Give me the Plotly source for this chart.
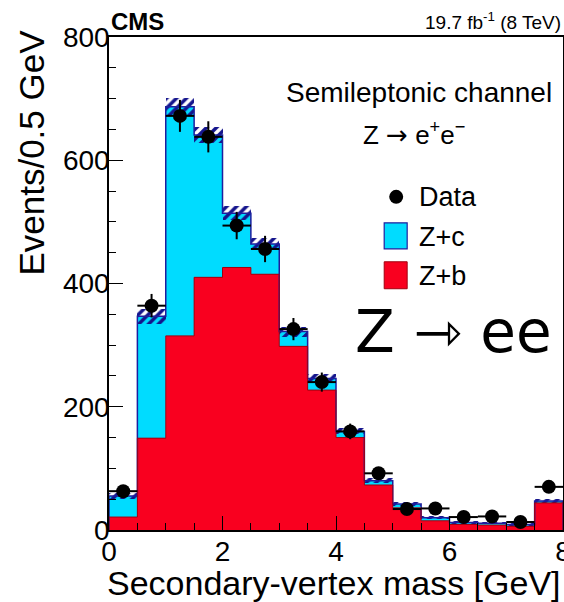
import numpy as np
import plotly.graph_objects as go

# ---- data ----
bin_centers = [0.25, 0.75, 1.25, 1.75, 2.25, 2.75, 3.25, 3.75,
               4.25, 4.75, 5.25, 5.75, 6.25, 6.75, 7.25, 7.75]
bin_edges = [0.0, 0.5, 1.0, 1.5, 2.0, 2.5, 3.0, 3.5, 4.0,
             4.5, 5.0, 5.5, 6.0, 6.5, 7.0, 7.5, 8.0]
z_b = [21, 149, 315, 410, 426, 415, 298, 227, 150, 73, 36, 15, 9, 8, 6, 44]
z_c = [34, 198, 372, 231, 88, 49, 24, 19, 10, 7, 6, 5, 3, 3, 3, 3]
data = [63, 364, 672, 638, 494, 456, 326, 240, 160, 92, 34, 35, 21, 22, 13, 70]
mc_unc = [5, 12, 14, 13, 11, 10, 8, 7, 5, 4, 3, 2, 2, 2, 2, 3]

total = [b + c for b, c in zip(z_b, z_c)]
bin_width = 0.5

RED = "#f9001f"
RED_EDGE = "#a0000f"
CYAN = "#00dcff"
BLUE_EDGE = "#1e1e9e"
HATCH = "#14148c"
FONT = "Liberation Sans, Arial, Helvetica, sans-serif"

def step_xy(vals):
    xs = [bin_edges[0]] + bin_edges[:-1] + [bin_edges[-1], bin_edges[-1]]
    ys = [0] + list(vals) + [vals[-1], 0]
    return xs, ys

fig = go.Figure()

# stacked histogram: total (cyan) behind, Z+b (red) in front
fig.add_trace(go.Bar(x=bin_centers, y=total, width=bin_width,
                     marker=dict(color=CYAN, line=dict(width=0)),
                     showlegend=False, hoverinfo="skip"))
fig.add_trace(go.Bar(x=bin_centers, y=z_b, width=bin_width,
                     marker=dict(color=RED, line=dict(width=0)),
                     showlegend=False, hoverinfo="skip"))

# outlines
xs, ys = step_xy(total)
fig.add_trace(go.Scatter(x=xs, y=ys, mode="lines", line=dict(color=BLUE_EDGE, width=1.5, shape="hv"),
                         showlegend=False, hoverinfo="skip"))
xs, ys = step_xy(z_b)
fig.add_trace(go.Scatter(x=xs, y=ys, mode="lines", line=dict(color=RED_EDGE, width=1, shape="hv"),
                         showlegend=False, hoverinfo="skip"))

# hatched MC uncertainty band
fig.add_trace(go.Bar(x=bin_centers,
                     y=[2 * u for u in mc_unc],
                     base=[t - u for t, u in zip(total, mc_unc)],
                     width=bin_width,
                     marker=dict(color="rgba(0,0,0,0)", line=dict(width=0),
                                 pattern=dict(shape="/", fgcolor=HATCH,
                                              bgcolor="rgba(0,0,0,0)",
                                              size=7, solidity=0.5,
                                              fgopacity=1,
                                              fillmode="overlay")),
                     showlegend=False, hoverinfo="skip"))

# data points
fig.add_trace(go.Scatter(x=bin_centers, y=data, mode="markers",
                         marker=dict(color="black", size=14),
                         error_y=dict(type="data", array=list(np.sqrt(data)),
                                      color="black", thickness=2, width=0),
                         error_x=dict(type="constant", value=bin_width / 2,
                                      color="black", thickness=2, width=0),
                         showlegend=False, hoverinfo="skip"))

W, H = 564, 602
L, R, T, B = 108.5, 563.0, 37.0, 530.5

def px(xp):
    return (xp - L) / (R - L)

def py(yp):
    return (B - yp) / (B - T)

fig.update_layout(
    width=W, height=H,
    margin=dict(l=L, r=W - R, t=T, b=H - B),
    paper_bgcolor="white", plot_bgcolor="white",
    barmode="overlay", bargap=0,
    font=dict(family=FONT, color="black"),
    showlegend=False,
)

fig.update_xaxes(range=[0, 8], dtick=2, tick0=0,
                 ticks="inside", ticklen=14, tickwidth=1.2, tickcolor="black",
                 minor=dict(ticks="inside", ticklen=7, dtick=0.5, tickcolor="black", tickwidth=1.2),
                 showgrid=False, zeroline=False,
                 showline=True, linecolor="black", linewidth=1.5, mirror=True,
                 tickfont=dict(size=28, family=FONT),
                 ticklabeloverflow="allow", ticklabelstandoff=-4,
                 automargin=False)
fig.update_yaxes(range=[0, 800], dtick=200, tick0=0,
                 ticks="inside", ticklen=14, tickwidth=1.2, tickcolor="black",
                 minor=dict(ticks="inside", ticklen=7, dtick=50, tickcolor="black", tickwidth=1.2),
                 showgrid=False, zeroline=False,
                 showline=True, linecolor="black", linewidth=1.5, mirror=True,
                 tickfont=dict(size=28, family=FONT),
                 ticklabelstandoff=-8, automargin=False)

ARROW = '<span style="font-family:DejaVu Sans">\u2192</span>'
ann = []
# axis titles (ROOT-style: aligned to the axis end)
ann.append(dict(text="Secondary-vertex mass [GeV]", x=px(563), y=py(584), xanchor="right", yanchor="middle",
                font=dict(size=34, family=FONT)))
ann.append(dict(text="Events/0.5 GeV", x=px(30), y=py(28), xanchor="center", yanchor="top",
                textangle=-90, font=dict(size=35, family=FONT)))
ann.append(dict(text="<b>CMS</b>", x=px(109), y=py(21), xanchor="left", yanchor="middle",
                font=dict(size=24, family=FONT)))
ann.append(dict(text="19.7 fb<sup>-1</sup> (8 TeV)", x=px(563), y=py(21), xanchor="right", yanchor="middle",
                font=dict(size=19, family=FONT)))
ann.append(dict(text="Semileptonic channel", x=px(554), y=py(93), xanchor="right", yanchor="middle",
                font=dict(size=28, family=FONT)))
ann.append(dict(text="Z " + ARROW + " e<sup>+</sup>e<sup>\u2212</sup>", x=px(414), y=py(134),
                xanchor="center", yanchor="middle",
                font=dict(size=26, family=FONT)))
ann.append(dict(text="Data", x=px(417), y=py(197), xanchor="left", yanchor="middle",
                font=dict(size=27, family=FONT)))
ann.append(dict(text="Z+c", x=px(417), y=py(237), xanchor="left", yanchor="middle",
                font=dict(size=27, family=FONT)))
ann.append(dict(text="Z+b", x=px(417), y=py(276), xanchor="left", yanchor="middle",
                font=dict(size=27, family=FONT)))
ann.append(dict(text="Z \u21fe ee", x=px(453), y=py(332), xanchor="center", yanchor="middle",
                font=dict(size=58, family="DejaVu Sans")))
for a in ann:
    a.update(xref="paper", yref="paper", showarrow=False)
fig.update_layout(annotations=ann)

shapes = [
    dict(type="circle", xref="paper", yref="paper",
         x0=px(389), x1=px(403), y0=py(204), y1=py(190),
         fillcolor="black", line=dict(color="black", width=0)),
    dict(type="rect", xref="paper", yref="paper",
         x0=px(384), x1=px(407), y0=py(249), y1=py(223),
         fillcolor=CYAN, line=dict(color=BLUE_EDGE, width=1.2)),
    dict(type="rect", xref="paper", yref="paper",
         x0=px(384), x1=px(407), y0=py(289), y1=py(262),
         fillcolor=RED, line=dict(color=RED_EDGE, width=1)),
]
fig.update_layout(shapes=shapes)

fig.write_html("out.html")
